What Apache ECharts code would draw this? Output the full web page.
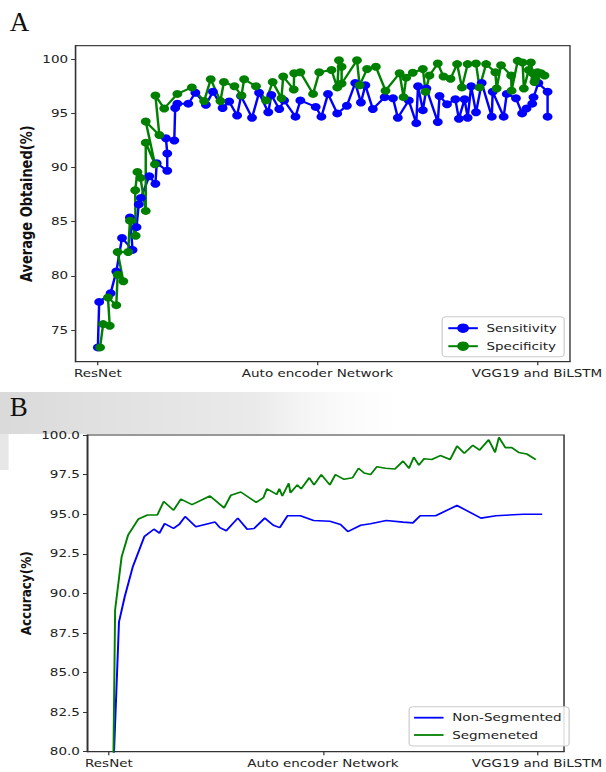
<!DOCTYPE html>
<html><head><meta charset="utf-8">
<script src="https://cdn.jsdelivr.net/npm/echarts@6/dist/echarts.min.js"></script>
<style>
html,body{margin:0;padding:0;background:#fff;overflow:hidden;}
#wrap{width:606px;height:772px;overflow:hidden;position:relative;background:#fff;}
#chart{width:493px;height:772px;transform:scaleX(1.2292);transform-origin:0 0;}
</style></head><body><div id="wrap"><div id="chart"></div></div>
<script>
const SX = 1.2292;
const tickLabels = ['ResNet', 'Auto encoder Network', 'VGG19 and BiLSTM'];
const tickValues = [0, 50, 100];
const yTicksA = [75, 80, 85, 90, 95, 100];

const sensitivity = [[0,73.4],[0.3,77.6],[2.9,78.4],[4.2,80.4],[5.5,83.5],[7.9,82.4],[7.3,85.4],[8.8,84.5],[9.3,86.6],[9.8,87.2],[11.7,89.2],[13.1,88.5],[13.4,90.4],[15.8,89.7],[15.8,91.3],[15.5,92.7],[17.4,92.5],[17.6,95.5],[18.1,95.9],[20.6,95.9],[22.2,96.9],[24.6,95.8],[26.2,97.0],[28.4,95.5],[29.9,96.1],[31.7,94.8],[32.6,96.6],[35.1,94.6],[36.7,96.9],[38.8,95.1],[39.5,96.7],[41.3,95.4],[42.4,96.2],[45.0,94.7],[46.1,96.2],[49.6,95.6],[50.9,94.7],[52.4,96.8],[54.5,95.0],[56.7,95.7],[58.6,97.8],[59.9,96.0],[60.9,97.6],[62.6,95.4],[65.3,96.5],[67.2,96.4],[68.3,94.6],[70.8,96.2],[72.5,94.1],[72.9,97.5],[74.0,95.3],[74.8,97.3],[77.4,94.2],[77.8,96.6],[79.5,95.85],[81.4,96.3],[82.2,94.5],[83.5,96.3],[84.2,94.6],[85.0,97.5],[86.1,95.1],[87.4,97.8],[89.7,94.7],[89.9,97.0],[92.4,94.7],[93.1,96.8],[95.2,96.4],[96.6,95.0],[97.6,95.45],[98.9,95.9],[99.2,96.5],[100.3,97.8],[102.4,97.0],[102.4,94.7]];

const specificity = [[0.5,73.4],[1.2,75.55],[2.7,75.4],[2.3,78.0],[4.2,77.3],[4.5,80.1],[5.8,79.5],[4.5,82.2],[6.9,82.2],[7.3,85.1],[8.6,83.7],[8.5,87.9],[9.0,89.6],[9.7,89.05],[10.9,86.0],[10.9,92.3],[13.0,90.3],[10.9,94.25],[14.0,93.0],[13.1,96.65],[15.1,95.45],[18.1,96.8],[21.4,97.4],[24.2,96.15],[25.7,98.15],[27.9,96.15],[28.7,97.9],[31.1,97.5],[32.7,96.65],[33.3,98.15],[36.0,97.5],[38.3,96.2],[39.8,97.9],[41.8,96.4],[42.2,98.4],[44.6,97.2],[44.7,98.7],[46.1,98.8],[49.0,96.8],[50.4,98.8],[53.2,99.0],[54.5,97.4],[54.9,99.9],[55.5,99.3],[55.5,97.75],[59.0,99.9],[59.6,97.6],[61.3,99.1],[63.3,99.3],[65.5,97.1],[68.7,98.7],[69.6,96.5],[70.2,98.3],[71.7,98.75],[74.0,99.1],[74.6,97.0],[75.5,98.5],[77.4,99.6],[78.7,98.4],[80.3,98.2],[81.8,99.55],[82.9,97.4],[84.2,99.55],[86.1,99.6],[86.9,97.4],[88.4,99.55],[90.5,98.8],[90.8,97.3],[91.8,99.45],[94.1,98.5],[94.2,97.1],[95.6,99.85],[96.7,99.7],[97.0,97.3],[98.1,99.0],[98.6,99.7],[99.0,98.7],[99.4,97.9],[100.1,98.8],[99.6,98.2],[100.9,98.7],[101.7,98.5]];

const nonSegmented = [[0,71.5],[2.35,88.2],[3.7,89.8],[5.6,91.7],[8.3,93.6],[10.5,94.05],[11.8,93.8],[13,94.4],[15.1,94.1],[16.4,94.35],[17.8,94.85],[20.3,94.2],[24.8,94.5],[25.9,94.15],[27.4,93.95],[30.1,94.75],[32.3,94.05],[33.9,94.1],[36.4,94.75],[38.4,94.3],[39.9,94.15],[41.7,94.9],[44.7,94.9],[47.8,94.6],[51.6,94.55],[54.1,94.35],[55.8,93.9],[58.8,94.3],[61.1,94.4],[64.8,94.6],[68.7,94.5],[71,94.45],[72.7,94.9],[76.3,94.9],[81.3,95.55],[86.9,94.75],[90.4,94.9],[96.8,95.0],[101.2,95.0]];

const segmented = [[0,55],[1.44,88.95],[2.96,92.3],[4.5,93.7],[6.9,94.7],[9.0,94.95],[11.3,94.95],[12.8,95.8],[15.1,95.25],[16.8,95.95],[19.4,95.6],[23.6,96.15],[26.9,95.4],[28.5,96.2],[30.8,96.4],[34.4,95.75],[36.1,96.05],[36.9,96.6],[39.2,96.25],[39.8,96.6],[40.5,96.15],[42,96.95],[42.4,96.35],[44,96.85],[44.9,96.6],[46.8,97.3],[47.9,96.85],[49.6,97.5],[51.6,96.85],[52.9,97.5],[54.9,97.2],[56.9,97.3],[58.3,97.9],[59.6,97.6],[61.1,97.5],[62.6,98.0],[64.6,97.9],[66.8,97.85],[68.7,98.35],[70.1,97.9],[71.2,98.6],[72.4,98.1],[73.6,98.5],[75.4,98.45],[77.4,98.7],[79.7,98.45],[81.3,99.3],[83.0,98.85],[85.0,99.35],[86.6,99.05],[88.7,99.7],[90.2,98.9],[91.1,99.85],[92.6,99.2],[94.1,99.2],[95.7,98.9],[97.6,98.8],[99.7,98.45]];

const FONT = 'DejaVu Sans';
const TXT = '#222';
function xLabel(v){ const i = tickValues.indexOf(v); return i >= 0 ? tickLabels[i] : ''; }

const chart = echarts.init(document.getElementById('chart'), null, {renderer: 'svg'});
const baseX = {
  type: 'value',
  axisLine: {show: true, onZero: false, lineStyle: {color: '#333', width: 1}},
  axisTick: {show: true, length: 3.5, customValues: tickValues, lineStyle: {color: '#333'}},
  axisLabel: {customValues: tickValues, formatter: xLabel, fontFamily: FONT, fontSize: 11, color: TXT, margin: 6},
  splitLine: {show: false}
};
const baseY = {
  type: 'value',
  axisLine: {show: true, onZero: false, lineStyle: {color: '#333', width: 1}},
  axisTick: {show: true, length: 3.5, lineStyle: {color: '#333'}},
  axisLabel: {fontFamily: FONT, fontSize: 11, color: TXT, margin: 6},
  splitLine: {show: false},
  nameLocation: 'middle',
  nameMoveOverlap: false,
  nameTextStyle: {fontFamily: FONT, fontWeight: 'bold', color: '#111'}
};

const option = {
  animation: false,
  backgroundColor: 'transparent',
  graphic: [
    {type: 'rect', z: -10, silent: true, shape: {x: 0, y: 392, width: 345, height: 42},
      style: {fill: new echarts.graphic.LinearGradient(0, 0, 1, 0, [
        {offset: 0, color: 'rgba(205,205,205,0.75)'},
        {offset: 0.6, color: 'rgba(220,220,220,0.6)'},
        {offset: 1, color: 'rgba(255,255,255,0)'}])}},
    {type: 'rect', z: -10, silent: true, shape: {x: 0, y: 434, width: 7, height: 36},
      style: {fill: 'rgba(215,215,215,0.6)'}},
    {type: 'text', left: 8, top: 8, scaleX: 1/SX, style: {text: 'A', font: '27px "Liberation Serif"', fill: '#111'}},
    {type: 'text', left: 8, top: 393, scaleX: 1/SX, style: {text: 'B', font: '27px "Liberation Serif"', fill: '#111'}}
  ],
  grid: [
    {left: 61.4, top: 45.7, width: 403.4, height: 316, show: true, borderColor: '#444', borderWidth: 1.2, backgroundColor: 'transparent'},
    {left: 71.0, top: 435, width: 397.3, height: 316.7, show: true, borderColor: '#333', borderWidth: 1.2, backgroundColor: '#fff'}
  ],
  xAxis: [
    Object.assign({}, baseX, {gridIndex: 0, min: -5.1, max: 107.5}),
    Object.assign({}, baseX, {gridIndex: 1, min: -5.06, max: 106.3})
  ],
  yAxis: [
    Object.assign({}, baseY, {gridIndex: 0, min: 72.08, max: 101.25, name: 'Average Obtained(%)', nameGap: 34,
      nameTextStyle: Object.assign({}, baseY.nameTextStyle, {fontSize: 13}),
      axisTick: Object.assign({}, baseY.axisTick, {customValues: yTicksA}),
      axisLabel: Object.assign({}, baseY.axisLabel, {customValues: yTicksA, formatter: v => String(v)})}),
    Object.assign({}, baseY, {gridIndex: 1, min: 80, max: 100, interval: 2.5, name: 'Accuracy(%)', nameGap: 44,
      nameTextStyle: Object.assign({}, baseY.nameTextStyle, {fontSize: 12}),
      axisLabel: Object.assign({}, baseY.axisLabel, {formatter: v => v.toFixed(1)})})
  ],
  legend: [
    {data: ['Sensitivity', 'Specificity'], orient: 'vertical', right: 34, top: 316.7, itemWidth: 24, itemHeight: 12, itemGap: 5,
      padding: [5, 6, 4, 4], borderColor: '#cccccc', borderWidth: 1, borderRadius: 3, backgroundColor: 'rgba(255,255,255,0.85)',
      textStyle: {fontFamily: FONT, fontSize: 11, lineHeight: 13, color: TXT, padding: [0, 0, 0, 2]}},
    {data: ['Non-Segmented', 'Segmeneted'], orient: 'vertical', right: 30, top: 706.7, itemWidth: 24, itemHeight: 1.8, itemGap: 3.3,
      icon: 'rect',
      padding: [4, 6, 4, 4], borderColor: '#cccccc', borderWidth: 1, borderRadius: 3, backgroundColor: 'rgba(255,255,255,0.85)',
      textStyle: {fontFamily: FONT, fontSize: 11, lineHeight: 14, color: TXT, padding: [0, 0, 0, 2]}}
  ],
  series: [
    {type: 'line', name: 'Sensitivity', xAxisIndex: 0, yAxisIndex: 0, data: sensitivity, symbol: 'circle', symbolSize: 8,
      lineStyle: {color: '#0000ff', width: 2}, itemStyle: {color: '#0000ff'}},
    {type: 'line', name: 'Specificity', xAxisIndex: 0, yAxisIndex: 0, data: specificity, symbol: 'circle', symbolSize: 8,
      lineStyle: {color: '#008000', width: 2}, itemStyle: {color: '#008000'}},
    {type: 'line', name: 'Non-Segmented', xAxisIndex: 1, yAxisIndex: 1, data: nonSegmented, showSymbol: false, symbol: 'none', clip: true,
      lineStyle: {color: '#0000ff', width: 1.6}, itemStyle: {color: '#0000ff'}},
    {type: 'line', name: 'Segmeneted', xAxisIndex: 1, yAxisIndex: 1, data: segmented, showSymbol: false, symbol: 'none', clip: true,
      lineStyle: {color: '#008000', width: 1.6}, itemStyle: {color: '#008000'}}
  ]
};
chart.setOption(option);
</script></body></html>
